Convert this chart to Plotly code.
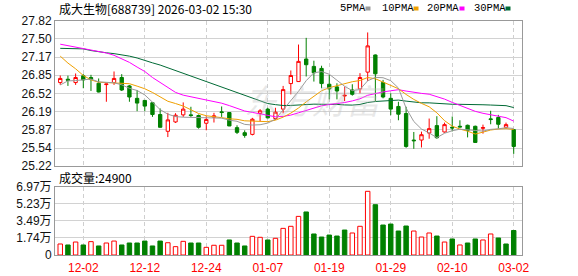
import plotly.graph_objects as go

# ---------------- data ----------------
dates = ["11-27","11-28","12-01","12-02","12-03","12-04","12-05","12-08","12-09","12-10",
         "12-11","12-12","12-15","12-16","12-17","12-18","12-19","12-22","12-23","12-24",
         "12-25","12-26","12-29","12-30","12-31","01-05","01-06","01-07","01-08","01-09",
         "01-12","01-13","01-14","01-15","01-16","01-19","01-20","01-21","01-22","01-23",
         "01-26","01-27","01-28","01-29","01-30","02-02","02-03","02-04","02-05","02-06",
         "02-09","02-10","02-11","02-12","02-13","02-24","02-25","02-26","02-27","03-02"]

open_ = [26.716,26.776,26.716,26.837,26.807,26.704,26.68,26.716,26.807,26.656,
         26.433,26.396,26.354,26.143,25.842,26.01,26.137,26.137,26.125,25.986,
         26.095,26.191,26.179,25.908,25.817,25.787,26.161,26.24,26.071,26.24,
         26.698,26.734,27.138,27.006,26.97,26.686,26.638,26.475,26.583,26.602,
         26.903,27.211,26.716,26.433,26.288,26.161,25.685,25.685,25.811,25.944,
         25.83,25.914,25.932,25.95,25.932,25.896,26.065,26.089,25.914,25.872]
high = [26.843,26.84,26.879,26.867,26.855,26.79,26.695,26.915,26.867,26.674,
        26.583,26.40,26.36,26.252,26.173,26.167,26.36,26.282,26.143,26.113,
        26.173,26.288,26.185,25.95,25.86,26.083,26.24,26.264,26.264,26.656,
        26.933,27.398,27.518,27.108,27.018,26.855,26.704,26.644,26.686,26.885,
        27.615,27.22,26.764,26.523,26.372,26.282,25.83,25.836,26.071,26.113,
        25.998,26.107,26.04,25.962,25.944,25.962,26.21,26.137,25.998,25.875]
low = [26.674,26.656,26.674,26.614,26.566,26.54,26.372,26.674,26.565,26.372,
       26.203,26.203,26.101,25.91,25.739,25.992,26.10,26.10,25.89,25.86,
       26.0,26.10,25.935,25.793,25.727,25.769,26.022,26.071,26.047,26.167,
       26.505,26.73,26.825,26.734,26.614,26.415,26.415,26.384,26.481,26.523,
       26.746,26.384,26.433,26.131,26.04,25.546,25.528,25.552,25.709,25.709,
       25.817,25.841,25.915,25.733,25.64,25.80,25.968,25.89,25.89,25.437]
close = [26.79,26.758,26.807,26.764,26.77,26.547,26.69,26.79,26.583,26.457,
         26.348,26.294,26.143,25.914,26.047,26.131,26.24,26.125,25.914,26.053,
         26.119,26.179,25.938,25.823,25.769,26.059,26.209,26.083,26.185,26.59,
         26.843,27.096,27.036,26.891,26.698,26.602,26.565,26.487,26.505,26.807,
         27.374,26.873,26.457,26.24,26.149,25.57,25.673,25.781,25.89,25.727,
         25.962,25.902,25.92,25.86,25.642,25.908,26.053,25.968,25.962,25.57]

ma5 = [26.674,26.746,26.752,26.764,26.778,26.729,26.716,26.712,26.676,26.613,
       26.574,26.494,26.365,26.231,26.149,26.106,26.095,26.091,26.091,26.093,
       26.090,26.078,26.041,26.022,25.966,25.954,25.96,25.989,26.061,26.225,
       26.382,26.559,26.75,26.891,26.913,26.865,26.758,26.649,26.571,26.593,
       26.748,26.809,26.803,26.75,26.619,26.258,26.018,25.883,25.813,25.728,
       25.807,25.852,25.88,25.874,25.857,25.846,25.877,25.886,25.907,25.892]
ma10 = [27.19,27.066,26.963,26.843,26.764,26.722,26.716,26.712,26.704,26.696,
        26.652,26.605,26.539,26.454,26.381,26.34,26.295,26.228,26.161,26.121,
        26.098,26.087,26.066,26.057,26.03,26.022,26.019,26.015,26.042,26.096,
        26.168,26.26,26.37,26.476,26.569,26.624,26.659,26.70,26.731,26.753,
        26.807,26.784,26.726,26.661,26.606,26.503,26.414,26.343,26.282,26.174,
        26.033,25.935,25.882,25.844,25.793,25.827,25.865,25.883,25.891,25.875]
ma20 = [27.404,27.38,27.356,27.325,27.295,27.277,27.247,27.205,27.144,27.078,
        26.994,26.915,26.807,26.716,26.62,26.54,26.49,26.46,26.435,26.409,
        26.375,26.346,26.303,26.256,26.206,26.181,26.157,26.122,26.102,26.109,
        26.133,26.174,26.218,26.267,26.30,26.323,26.339,26.358,26.387,26.425,
        26.488,26.522,26.548,26.569,26.588,26.564,26.537,26.522,26.507,26.464,
        26.42,26.36,26.304,26.253,26.20,26.165,26.14,26.113,26.087,26.025]
ma30 = [27.33,27.33,27.325,27.32,27.29,27.265,27.25,27.235,27.217,27.19,
        27.157,27.12,27.07,27.03,26.98,26.93,26.88,26.83,26.78,26.73,
        26.68,26.63,26.58,26.53,26.48,26.43,26.38,26.34,26.32,26.305,
        26.306,26.318,26.325,26.329,26.327,26.329,26.324,26.315,26.312,26.324,
        26.358,26.377,26.387,26.398,26.402,26.383,26.364,26.353,26.352,26.341,
        26.336,26.327,26.326,26.327,26.323,26.318,26.313,26.309,26.302,26.268]

volume = [11200,10200,13200,10200,13600,9200,12200,14200,10200,12200,
          12200,14200,9200,14200,12500,8500,13900,12200,12200,7800,
          9900,9900,15300,12200,9200,19000,18000,15300,17000,27100,
          29200,39300,43800,21400,18300,20300,19300,25400,22400,29200,
          64800,51200,30500,31500,24400,29500,24400,18300,22400,19300,
          13200,16300,10200,12200,16300,15300,21400,17300,11200,24900]

price_ticks = [25.22,25.54,25.87,26.19,26.52,26.85,27.17,27.50,27.82]
price_labels = ["25.22","25.54","25.87","26.19","26.52","26.85","27.17","27.50","27.82"]
vol_ticks = [0,17425,34850,52275,69700]
vol_labels = ["0","1.74万","3.49万","5.23万","6.97万"]
date_tick_idx = [3,11,19,27,35,43,51,59]

title_text = "成大生物[688739] 2026-03-02 15:30"
ma_names = ["5PMA","10PMA","20PMA","30PMA"]
vol_title = "成交量:24900"

# ---------------- style ----------------
RED = "#ff0000"
GREEN = "#008000"
MA_COLORS = ["#9a9a9a", "#f0a000", "#ff00ff", "#006a35"]
W, H = 578, 276
ML, MR, MT, MB = 55, 56, 21, 21
PW, PH = W - ML - MR, H - MT - MB


def fx(px):
    return (px - ML) / PW


def fy(py):
    return (H - MB - py) / PH


fig = go.Figure()

fig.add_trace(go.Candlestick(
    x=dates, open=open_, high=high, low=low, close=close,
    increasing=dict(line=dict(color=RED, width=1), fillcolor="#ffffff"),
    decreasing=dict(line=dict(color=GREEN, width=1), fillcolor=GREEN),
    whiskerwidth=0, xaxis="x", yaxis="y", showlegend=False, hoverinfo="skip"))

for vals, col in zip([ma30, ma20, ma10, ma5], MA_COLORS[::-1]):
    fig.add_trace(go.Scatter(x=dates, y=vals, mode="lines",
                             line=dict(color=col, width=1), xaxis="x", yaxis="y",
                             showlegend=False, hoverinfo="skip"))

vol_fill, vol_line = [], []
for i in range(len(volume)):
    up = True if i == 0 else close[i] >= close[i - 1]
    vol_fill.append("#ffffff" if up else GREEN)
    vol_line.append(RED if up else GREEN)

fig.add_trace(go.Bar(x=dates, y=volume, xaxis="x2", yaxis="y2",
                     marker=dict(color=vol_fill, line=dict(color=vol_line, width=1)),
                     showlegend=False, hoverinfo="skip"))

xr = [(ML - 60.24) / 7.686, (W - MR - 60.24) / 7.686]
tickdates = [dates[i] for i in date_tick_idx]
common_x = dict(type="category", range=xr, showline=True, mirror=True, linecolor="#999999",
                linewidth=1, showgrid=True, gridcolor="#cfcfcf", griddash="4px,3px",
                gridwidth=1, tickmode="array", tickvals=tickdates, ticktext=tickdates,
                rangeslider=dict(visible=False), fixedrange=True, zeroline=False,
                automargin=False)

fig.update_layout(
    width=W, height=H, autosize=False,
    margin=dict(l=ML, r=MR, t=MT, b=MB, pad=0, autoexpand=False),
    paper_bgcolor="#ffffff", plot_bgcolor="#ffffff",
    boxgap=0.38, bargap=0.42,
    xaxis=dict(common_x, domain=[0, 1], anchor="y", showticklabels=False),
    xaxis2=dict(common_x, domain=[0, 1], anchor="y2", matches="x", showticklabels=True,
                ticks="outside", ticklen=2, tickcolor="rgba(0,0,0,0)",
                tickfont=dict(family="Liberation Sans, Arial", size=12, color=RED)),
    yaxis=dict(domain=[fy(166), 1], range=[25.2199, 27.8201], tickmode="array",
               tickvals=price_ticks, ticktext=price_labels, showline=True, mirror=True,
               linecolor="#999999", showgrid=True, gridcolor="#d2d2d2", zeroline=False,
               automargin=False,
               tickfont=dict(family="Liberation Sans, Arial", size=12, color="#111111")),
    yaxis2=dict(domain=[0, fy(186.5)], range=[0, 69710], tickmode="array",
                tickvals=vol_ticks, ticktext=vol_labels, showline=True, mirror=True,
                linecolor="#999999", showgrid=True, gridcolor="#d2d2d2", zeroline=False,
                automargin=False,
                tickfont=dict(family="Liberation Sans, Noto Sans CJK SC", size=12,
                              color="#111111")),
    font=dict(family="Noto Sans CJK SC"),
)

ann = []
ann.append(dict(text=title_text, x=fx(57), y=fy(8.5), xref="paper", yref="paper",
                xanchor="left", yanchor="middle", showarrow=False,
                font=dict(family="Noto Sans CJK SC", size=12, color="#000000")))
ann.append(dict(text=vol_title, x=fx(57), y=fy(177), xref="paper", yref="paper",
                xanchor="left", yanchor="middle", showarrow=False,
                font=dict(family="Noto Sans CJK SC", size=12, color="#000000")))
ann.append(dict(text="<i>东方财富</i>", x=fx(314), y=fy(99), xref="paper", yref="paper",
                xanchor="center", yanchor="middle", showarrow=False,
                font=dict(family="Noto Sans CJK SC", size=34, color="rgba(190,190,190,0.35)")))

legend_x = [338, 380, 425, 471.5]
square_x = [365.5, 413.5, 459.5, 505.5]
shapes = []
for name, lx, sx, col in zip(ma_names, legend_x, square_x, MA_COLORS):
    ann.append(dict(text=name, x=fx(lx), y=fy(8.5), xref="paper", yref="paper",
                    xanchor="left", yanchor="middle", showarrow=False,
                    font=dict(family="Liberation Mono", size=10.5, color="#000000")))
    shapes.append(dict(type="rect", xref="paper", yref="paper", x0=fx(sx), x1=fx(sx + 5),
                       y0=fy(10.5), y1=fy(6.5), line=dict(width=0), fillcolor=col))

fig.update_layout(annotations=ann, shapes=shapes)
fig.write_html("out.html")
